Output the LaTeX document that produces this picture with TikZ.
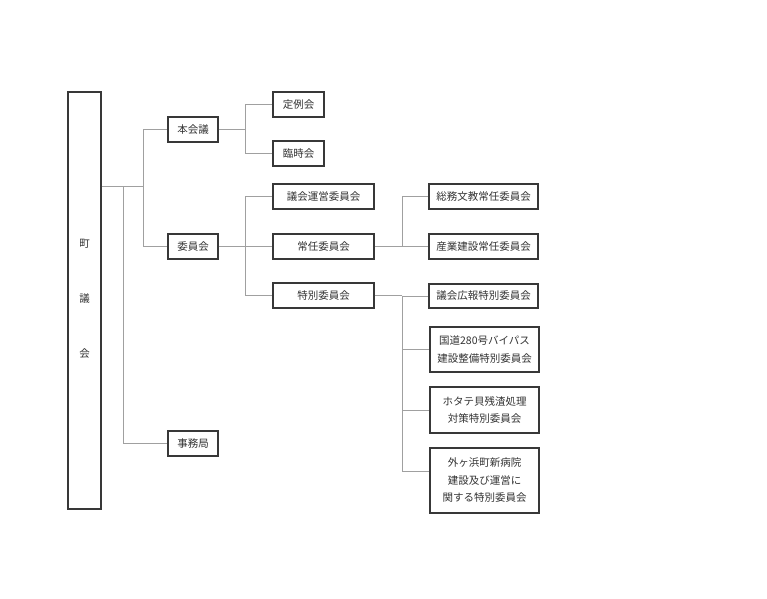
\documentclass[tikz,border=0pt]{standalone}
\usepackage{fontspec}
\setmainfont{Noto Sans CJK JP}
\definecolor{boxc}{HTML}{383838}
\definecolor{linec}{HTML}{A0A0A0}
\definecolor{txtc}{HTML}{333333}
\tikzset{
  orgbox/.style={draw=boxc, line width=1.2pt, fill=white, inner sep=0pt, align=center,
    text=txtc, font=\fontsize{10.5}{17.5}\selectfont},
  maintxt/.style={text=txtc, font=\fontsize{10.5}{12}\selectfont},
  conn/.style={draw=linec, line width=0.9pt}
}
\begin{document}
\begin{tikzpicture}[x=1pt,y=-1pt]
\useasboundingbox (0,0) rectangle (767,598);
% main box
\node[orgbox, minimum width=33pt, minimum height=417pt] (main) at (84.5,300.5) {};
\node[maintxt] (t1) at (84.5,244) {町};
\node[maintxt] (t2) at (84.5,299) {議};
\node[maintxt] (t3) at (84.5,354) {会};
% level 1
\node[orgbox, minimum width=50pt, minimum height=25pt] (honkai) at (193,129.5) {本会議};
\node[orgbox, minimum width=50pt, minimum height=25pt] (iinkai) at (193,246.5) {委員会};
\node[orgbox, minimum width=50pt, minimum height=25pt] (jimu) at (193,443.5) {事務局};
% level 2
\node[orgbox, minimum width=51pt, minimum height=25pt] (teirei) at (298.5,104.5) {定例会};
\node[orgbox, minimum width=51pt, minimum height=25pt] (rinji) at (298.5,153.5) {臨時会};
\node[orgbox, minimum width=101pt, minimum height=25pt] (unei) at (323.5,196.5) {議会運営委員会};
\node[orgbox, minimum width=101pt, minimum height=25pt] (jonin) at (323.5,246.5) {常任委員会};
\node[orgbox, minimum width=101pt, minimum height=25pt] (tokubetsu) at (323.5,295.5) {特別委員会};
% level 3
\node[orgbox, minimum width=109pt, minimum height=25pt] (somu) at (483.5,196.5) {総務文教常任委員会};
\node[orgbox, minimum width=109pt, minimum height=25pt] (sangyo) at (483.5,246.5) {産業建設常任委員会};
\node[orgbox, minimum width=109pt, minimum height=24pt] (koho) at (483.5,296) {議会広報特別委員会};
\node[orgbox, minimum width=109pt, minimum height=45pt] (kokudo) at (484.5,349.5) {国道280号バイパス\\建設整備特別委員会};
\node[orgbox, minimum width=109pt, minimum height=46pt] (hotate) at (484.5,410) {ホタテ貝残渣処理\\対策特別委員会};
\node[orgbox, minimum width=109pt, minimum height=65pt] (byoin) at (484.5,480.5) {外ヶ浜町新病院\\建設及び運営に\\関する特別委員会};
% junctions
\coordinate (j0) at (143,186);
\coordinate (jj) at (123,186);
\coordinate (j1) at (245,129.5);
\coordinate (j2) at (245,246.5);
\coordinate (j3) at (402,246.5);
\coordinate (j4) at (402,295.5);
\coordinate (j5) at (402,471);
% connectors
\draw[conn] (main.east |- j0) -- (j0);
\draw[conn] (j0 |- honkai) -- (j0 |- iinkai);
\draw[conn] (j0 |- honkai) -- (honkai.west);
\draw[conn] (j0 |- iinkai) -- (iinkai.west);
\draw[conn] (jj) -- (jj |- jimu) -- (jimu.west);
\draw[conn] (honkai.east) -- (j1);
\draw[conn] (j1 |- teirei) -- (j1 |- rinji);
\draw[conn] (j1 |- teirei) -- (teirei.west);
\draw[conn] (j1 |- rinji) -- (rinji.west);
\draw[conn] (iinkai.east) -- (j2);
\draw[conn] (j2 |- unei) -- (j2 |- tokubetsu);
\draw[conn] (j2 |- unei) -- (unei.west);
\draw[conn] (j2) -- (jonin.west);
\draw[conn] (j2 |- tokubetsu) -- (tokubetsu.west);
\draw[conn] (jonin.east) -- (j3);
\draw[conn] (j3 |- somu) -- (j3);
\draw[conn] (j3 |- somu) -- (somu.west);
\draw[conn] (j3) -- (sangyo.west);
\draw[conn] (tokubetsu.east) -- (j4);
\draw[conn] (j4) -- (j5);
\draw[conn] (j4 |- koho) -- (koho.west);
\draw[conn] (j4 |- kokudo) -- (kokudo.west);
\draw[conn] (j4 |- hotate) -- (hotate.west);
\draw[conn] (j5) -- (j5 -| byoin.west);
\end{tikzpicture}
\end{document}
